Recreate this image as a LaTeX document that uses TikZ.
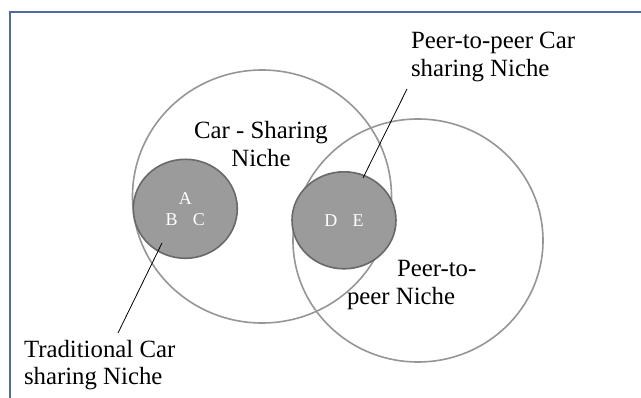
\documentclass[tikz,border=0pt]{standalone}
\usepackage{fontspec}
\setmainfont{Liberation Serif}
\usepackage{xcolor}
\usetikzlibrary{shapes.geometric}
\definecolor{framec}{RGB}{79,107,160}
\definecolor{ringc}{RGB}{150,150,150}
\definecolor{blobc}{RGB}{155,155,155}
\definecolor{blobedge}{RGB}{105,105,105}

\begin{document}
\begin{tikzpicture}[x=1pt,y=-1pt,
  every node/.style={inner sep=0pt, outer sep=0pt},
  ring/.style={ellipse, draw=ringc, line width=1.6pt},
  blob/.style={ellipse, draw=blobedge, fill=blobc, line width=1.6pt, text=white, align=center,
    font=\fontsize{18}{21}\selectfont},
  label/.style={font=\fontsize{24.8}{28}\selectfont, text=black},
  leader/.style={draw=black, line width=0.8pt}]
\useasboundingbox (0,0) rectangle (641,398);
\fill[white] (0,0) rectangle (641,398);
\draw[framec, line width=2pt] (10,398) -- (10,12.5) -- (641,12.5);
% niches
\node[ring, minimum width=259pt, minimum height=253pt] (cs) at (262,196.5) {};
\node[ring, minimum width=250pt, minimum height=243pt] (pp) at (418,240.5) {};
\node[blob, minimum width=104pt, minimum height=99pt] (trad) at (185.3,208.8) {A\\B\hspace{0.85em}C};
\node[blob, minimum width=104pt, minimum height=97pt] (ptp) at (344,220.3) {D\hspace{0.85em}E};
% labels (base = last line)
\node[label, align=center, anchor=base] (cslabel) at (261,167) {Car - Sharing\\Niche};
\node[label, align=left, anchor=base west] (ptplabel) at (411,77) {Peer-to-peer Car\\sharing Niche};
\node[label, align=left, anchor=base west] (pplabel) at (347,305) {\hspace*{50pt}Peer-to-\\peer Niche};
\node[label, align=left, anchor=base west] (tradlabel) at (24,385) {Traditional Car\\sharing Niche};
% leader lines
\coordinate (tradfoot) at (118,333);
\coordinate (tradtip) at (162,243);
\coordinate (ptpfoot) at (407,89);
\coordinate (ptptip) at (363,178);
\draw[leader] (tradfoot) -- (tradtip);
\draw[leader] (ptpfoot) -- (ptptip);
\end{tikzpicture}
\end{document}
